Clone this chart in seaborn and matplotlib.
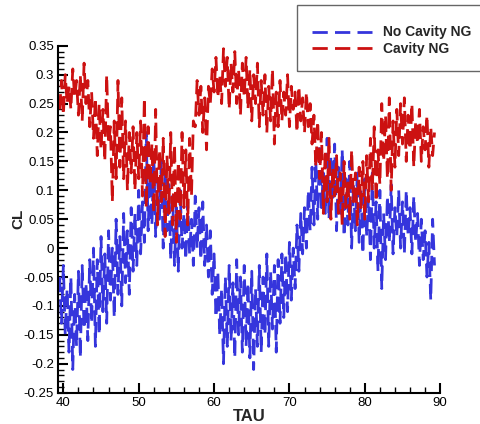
# CL vs TAU, no cavity vs cavity (NG)
import numpy as np
import pandas as pd
import seaborn as sns
import matplotlib.pyplot as plt
from matplotlib.patches import Rectangle
from matplotlib.ticker import MultipleLocator, FuncFormatter

# TAU sampled every 0.25 from 39.5 to 89.25 (200 samples)
tau = np.arange(39.5, 89.3, 0.25)

cl_no_cavity = [
    -0.05, -0.13, -0.03, -0.15, -0.07, -0.18, -0.05, -0.21, -0.08, -0.17, -0.04, -0.19, -0.03, -0.14, -0.06, -0.16, -0.02, -0.13, 0.00, -0.17,
    -0.02, -0.15, 0.02, -0.11, -0.01, -0.13, 0.03, -0.09, 0.00, -0.12, 0.05, -0.08, 0.02, -0.10, 0.06, -0.06, 0.03, -0.08, 0.07, -0.04,
    0.06, -0.03, 0.10, -0.01, 0.08, 0.01, 0.20, 0.03, 0.14, 0.04, 0.16, 0.02, 0.12, 0.05, 0.15, 0.00, 0.13, 0.03, 0.11, -0.02,
    0.09, -0.03, 0.07, -0.04, 0.10, 0.00, 0.06, -0.02, 0.08, -0.01, 0.05, -0.03, 0.09, 0.00, 0.07, -0.02, 0.08, -0.03, 0.04, -0.05,
    0.03, -0.08, -0.01, -0.12, -0.04, -0.15, -0.07, -0.20, -0.05, -0.17, -0.03, -0.16, -0.06, -0.19, -0.02, -0.15, -0.05, -0.18, -0.03, -0.17,
    -0.06, -0.19, -0.04, -0.21, -0.07, -0.17, -0.03, -0.18, -0.05, -0.15, -0.01, -0.17, -0.04, -0.14, -0.03, -0.18, -0.02, -0.13, -0.01, -0.12,
    -0.01, -0.11, 0.01, -0.09, 0.00, -0.07, 0.04, -0.04, 0.06, -0.01, 0.07, 0.00, 0.10, 0.03, 0.14, 0.04, 0.15, 0.05, 0.18, 0.07,
    0.13, 0.06, 0.19, 0.05, 0.16, 0.08, 0.18, 0.03, 0.14, 0.06, 0.17, 0.02, 0.12, 0.04, 0.15, 0.00, 0.11, 0.03, 0.13, 0.01,
    0.10, -0.01, 0.12, 0.02, 0.09, -0.02, 0.13, 0.00, 0.08, -0.04, 0.10, -0.07, 0.06, -0.02, 0.09, 0.01, 0.11, -0.01, 0.07, 0.02,
    0.10, 0.00, 0.08, -0.01, 0.10, 0.02, 0.07, -0.01, 0.09, 0.01, 0.06, -0.03, 0.05, -0.02, 0.03, -0.05, 0.01, -0.09, 0.05, -0.03,
]

cl_cavity = [
    0.24, 0.29, 0.23, 0.30, 0.25, 0.28, 0.24, 0.31, 0.26, 0.29, 0.23, 0.30, 0.22, 0.32, 0.25, 0.29, 0.21, 0.27, 0.19, 0.26,
    0.16, 0.25, 0.17, 0.24, 0.15, 0.30, 0.18, 0.21, 0.08, 0.22, 0.12, 0.29, 0.14, 0.26, 0.12, 0.22, 0.10, 0.20, 0.13, 0.21,
    0.10, 0.20, 0.12, 0.22, 0.09, 0.26, 0.07, 0.21, 0.11, 0.18, 0.06, 0.24, 0.04, 0.17, 0.08, 0.19, 0.02, 0.16, 0.06, 0.20,
    0.04, 0.18, 0.01, 0.15, 0.05, 0.20, 0.07, 0.17, 0.04, 0.19, 0.09, 0.22, 0.21, 0.29, 0.23, 0.28, 0.20, 0.26, 0.17, 0.28,
    0.25, 0.31, 0.27, 0.33, 0.26, 0.30, 0.25, 0.345, 0.28, 0.33, 0.24, 0.32, 0.27, 0.34, 0.25, 0.31, 0.23, 0.32, 0.26, 0.33,
    0.24, 0.31, 0.22, 0.30, 0.25, 0.32, 0.21, 0.29, 0.23, 0.30, 0.20, 0.28, 0.22, 0.31, 0.18, 0.27, 0.21, 0.29, 0.22, 0.27,
    0.23, 0.30, 0.21, 0.28, 0.24, 0.27, 0.20, 0.28, 0.22, 0.26, 0.20, 0.27, 0.21, 0.25, 0.18, 0.23, 0.14, 0.22, 0.12, 0.20,
    0.06, 0.17, 0.08, 0.19, 0.05, 0.14, 0.09, 0.16, 0.06, 0.13, 0.04, 0.15, 0.07, 0.12, 0.05, 0.17, 0.08, 0.13, 0.04, 0.14,
    0.07, 0.15, 0.05, 0.16, 0.08, 0.19, 0.10, 0.21, 0.08, 0.17, 0.11, 0.25, 0.15, 0.23, 0.12, 0.26, 0.10, 0.22, 0.14, 0.24,
    0.16, 0.25, 0.18, 0.26, 0.15, 0.23, 0.17, 0.25, 0.14, 0.22, 0.18, 0.24, 0.15, 0.21, 0.17, 0.23, 0.14, 0.21, 0.16, 0.20,
]

series_names = ['No Cavity NG', 'Cavity NG']
series_colors = ['#3535dc', '#cc1111']
dash_pattern = (5.5, 2.6)

sns.set_style('ticks')
plt.rcParams['font.family'] = ['Liberation Sans', 'DejaVu Sans']

fig = plt.figure(figsize=(4.8, 4.24), dpi=100)
ax = fig.add_axes([0.121, 0.074, 0.796, 0.818])

for name, vals, col in zip(series_names, [cl_no_cavity, cl_cavity], series_colors):
    sns.lineplot(x=tau, y=vals, ax=ax, color=col, lw=2, label=name, sort=False)
    ax.lines[-1].set_dashes(dash_pattern)

ax.set_xlim(39.3, 90)
ax.set_ylim(-0.25, 0.35)
ax.xaxis.set_major_locator(MultipleLocator(10))
ax.xaxis.set_minor_locator(MultipleLocator(2))
ax.yaxis.set_major_locator(MultipleLocator(0.05))
ax.yaxis.set_minor_locator(MultipleLocator(0.01))
ax.yaxis.set_major_formatter(FuncFormatter(lambda v, p: '%g' % round(v, 2)))
ax.tick_params(which='both', direction='in', colors='black', labelsize=9.5, pad=3)
ax.tick_params(which='major', length=7, width=1.5)
ax.tick_params(which='minor', length=4, width=1)

sns.despine(ax=ax)
for s in ['left', 'bottom']:
    ax.spines[s].set_linewidth(1.5)
    ax.spines[s].set_color('black')

ax.set_xlabel('TAU', fontsize=12, fontweight='bold', va='top')
ax.set_ylabel('CL', fontsize=11, fontweight='bold')
ax.xaxis.set_label_coords(0.5, -0.048)
ax.yaxis.set_label_coords(-0.086, 0.5)

# legend box in the top right corner
fig.patches.append(Rectangle((297 / 480, 1 - 71 / 424), 0.4, 66 / 424,
                             transform=fig.transFigure, fill=False,
                             edgecolor='#666666', lw=1))
leg = ax.legend(loc='center left', bbox_to_anchor=(305 / 480, 1 - 40.5 / 424),
                bbox_transform=fig.transFigure, frameon=False, borderpad=0,
                handlelength=4.3, handletextpad=0.85, labelspacing=0.15,
                prop={'weight': 'bold', 'size': 10})
for h in leg.get_lines():
    h.set_dashes(dash_pattern)

fig.savefig('out.png', dpi=100)
